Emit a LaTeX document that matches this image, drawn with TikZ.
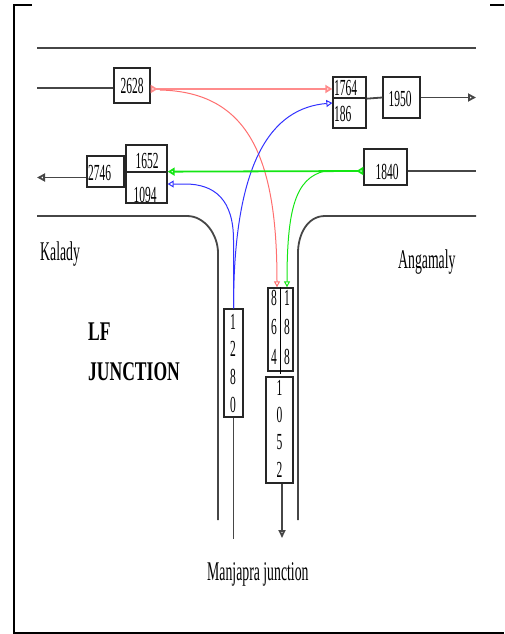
\documentclass[tikz,border=0pt]{standalone}
\usepackage{fontspec}
\setmainfont{Liberation Serif}
\newfontfamily\numfont{Liberation Serif}[FakeStretch=0.5]
\newfontfamily\labfont{Liberation Serif}[FakeStretch=0.51]
\newfontfamily\jctfont{Liberation Serif}[FakeStretch=0.65]
\usetikzlibrary{arrows.meta}
\definecolor{roadgray}{RGB}{70,70,70}
\definecolor{lred}{RGB}{255,110,110}
\definecolor{lblue}{RGB}{50,50,255}
\definecolor{lgreen}{RGB}{20,230,20}
\begin{document}
\begin{tikzpicture}[x=1pt,y=-1pt,
  box/.style={draw=black!85, line width=1.3pt, inner sep=0pt},
  numtxt/.style={font=\numfont\fontsize{23}{26}\selectfont, inner sep=0pt},
  road/.style={draw=roadgray, line width=1.8pt},
  link/.style={draw=roadgray, line width=1.8pt},
  lab/.style={font=\labfont\fontsize{27}{30}\selectfont, inner sep=0pt, anchor=base west},
  jct/.style={font=\jctfont\bfseries\fontsize{27}{30}\selectfont, inner sep=0pt, anchor=base west},
]
\useasboundingbox (0,0) rectangle (504,634);
% frame
\draw[line width=2pt] (14,5) -- (14,633) -- (504,633);
\draw[line width=2pt] (13,5) -- (32,5);
\draw[line width=2pt] (490,5) -- (504,5);

% roads
\draw[road] (37,48) -- (476,48);
\draw[road] (37,216) -- (187,216) .. controls (205,216) and (218,235) .. (218,253) -- (218,520);
\draw[road] (476,216) -- (325,216) .. controls (307,216) and (298,235) .. (298,253) -- (298,520);

% boxes
\node[box, minimum width=36pt, minimum height=35pt] (b2628) at (132,85.5) {};
\node[box, minimum width=33pt, minimum height=21pt] (b1764) at (349.5,87.5) {};
\node[box, minimum width=33pt, minimum height=30pt] (b186) at (349.5,113) {};
\node[box, minimum width=37pt, minimum height=41pt] (b1950) at (401.5,97.5) {};
\node[box, minimum width=37pt, minimum height=31pt] (b2746) at (105.5,171.5) {};
\node[box, minimum width=41pt, minimum height=27pt] (b1652) at (146.5,158.5) {};
\node[box, minimum width=41pt, minimum height=31pt] (b1094) at (146.5,187.5) {};
\node[box, minimum width=43pt, minimum height=36pt] (b1840) at (385.5,167) {};
\node[box, minimum width=19pt, minimum height=108pt] (b1280) at (233.5,363) {};
\node[box, minimum width=25pt, minimum height=83pt] (b864) at (280.5,329.5) {};
\node[box, minimum width=27pt, minimum height=106pt] (b1052) at (279.5,430) {};
\draw[line width=1.3pt] (b864.north) -- ([yshift=-2pt]b864.south);

% texts
\node[numtxt] (t2628) at (132,85.5) {2628};
\node[numtxt, anchor=west] (t1764) at (334,88) {1764};
\node[numtxt, anchor=west] (t186) at (334,114) {186};
\node[numtxt] (t1950) at (400,99) {1950};
\node[numtxt, anchor=west] (t2746) at (88,173) {2746};
\node[numtxt] (t1652) at (147,161) {1652};
\node[numtxt] (t1094) at (145,195) {1094};
\node[numtxt] (t1840) at (387,172) {1840};
\node[numtxt, font=\numfont\fontsize{23}{27.7}\selectfont, align=center] (t1280) at (233,363.25) {1\\2\\8\\0};
\node[numtxt, font=\numfont\fontsize{23}{29.5}\selectfont, align=center] (t864) at (274,327.3) {8\\6\\4};
\node[numtxt, font=\numfont\fontsize{23}{29.5}\selectfont, align=center] (t188) at (287,327.3) {1\\8\\8};
\node[numtxt, font=\numfont\fontsize{23}{27.3}\selectfont, align=center] (t1052) at (279.5,428.75) {1\\0\\5\\2};

% labels
\node[lab] (kal) at (40,260) {Kalady};
\node[lab] (ang) at (398,268) {Angamaly};
\node[lab] (man) at (207,580) {Manjapra junction};
\node[jct] (lf) at (88,340) {LF};
\node[jct] (junc) at (88,380) {JUNCTION};

% free ends
\coordinate (w1) at (37,88);
\coordinate (e1) at (476,97.5);
\coordinate (w2) at (37,177.5);
\coordinate (e2) at (476,171);
\coordinate (s1) at (233.5,539);
\coordinate (s2) at (282,538);
\coordinate (r0) at (160,90);
\coordinate (g0) at (325,171);

% gray connectors
\draw[link] (w1) -- ([yshift=-2.5pt]b2628.west);
\draw[link] (b1764.south east) -- (b1950.west);
\draw[link, -{Triangle[open, length=8pt, width=8pt]}] (b1950.east) -- (e1);
\draw[link, -{Triangle[open, length=8pt, width=8pt]}] ([yshift=-6pt]b2746.west) -- (w2);
\draw[link] ([yshift=-4pt]b1840.east) -- (e2);
\draw[link] (b1280.south) -- (s1);
\draw[link, -{Triangle[open, length=8pt, width=7pt]}] ([xshift=2.5pt]b1052.south) -- (s2);

% red
\draw[red!45, line width=2pt, {Triangle[open, reversed, length=7pt, width=8pt]}-{Triangle[open, length=7pt, width=8pt]}] ([yshift=-3.5pt]b2628.east) -- ([yshift=-1.5pt]b1764.west);
\draw[lred, line width=1pt, -{Triangle[open, length=6pt, width=6pt]}] (r0) .. controls (250,92) and (277,160) .. ([xshift=-3.5pt]b864.north);

% blue
\draw[lblue, line width=1pt, -{Triangle[open, length=6pt, width=7pt]}] (b1280.north) .. controls (233.5,160) and (272,108) .. ([yshift=10pt]b186.west);
\draw[lblue, line width=1pt, -{Triangle[open, length=6pt, width=7pt]}] (b1280.north) -- (233.5,240) .. controls (233.5,200) and (215,184) .. (185,184) -- ([yshift=3.5pt]b1094.east);

% green
\draw[lgreen, line width=1.8pt, {Triangle[open, reversed, length=7pt, width=8pt]}-{Triangle[open, length=7pt, width=8pt]}] ([yshift=-4pt]b1840.west) -- ([yshift=1pt]b1652.south east);
\draw[lgreen, line width=1pt, -{Triangle[open, length=6pt, width=6pt]}] (g0) .. controls (295,178) and (287,210) .. ([xshift=6.5pt]b864.north);
\end{tikzpicture}
\end{document}
